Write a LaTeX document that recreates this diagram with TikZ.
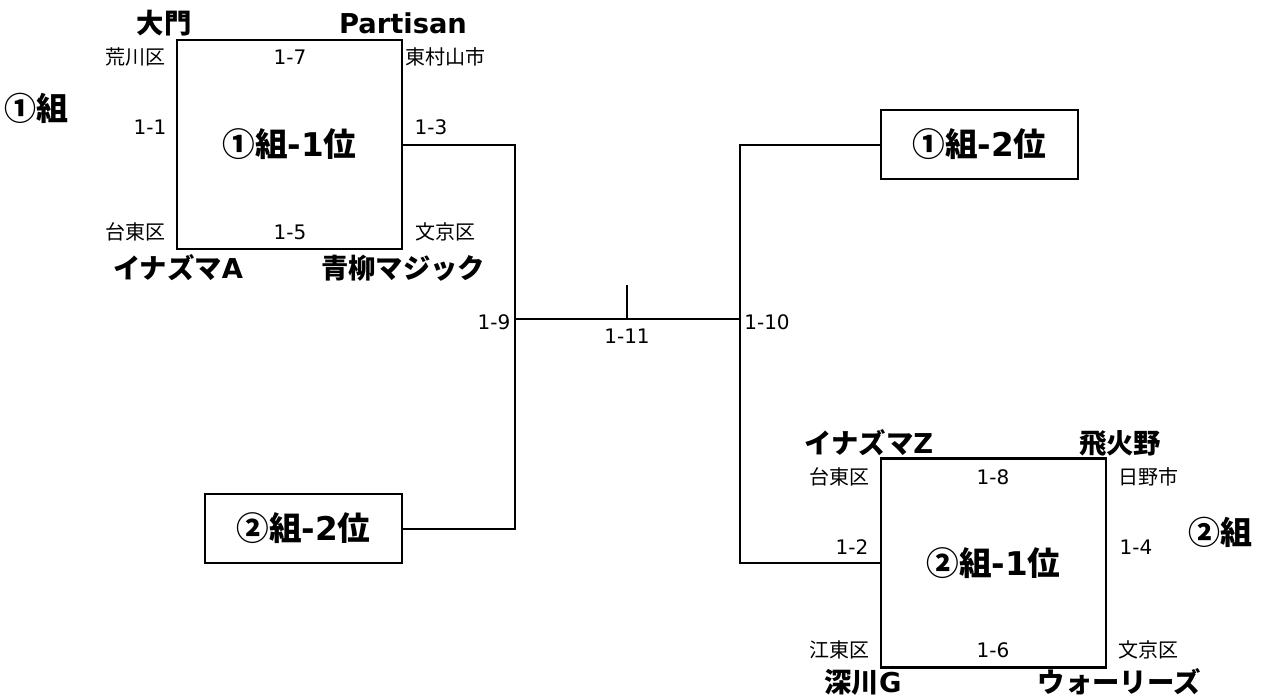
\documentclass[tikz,border=0pt]{standalone}
\usepackage{fontspec}
\setmainfont{Noto Sans CJK JP}
\newfontfamily\latinfont{DejaVu Sans}
\usetikzlibrary{positioning}

\tikzset{
  poolbox/.style={draw, line width=2pt, inner sep=0pt, outer sep=0pt,
    minimum width=168.75pt, minimum height=156.75pt,
    font=\fontsize{24.5}{24.5}\selectfont\bfseries},
  seedbox/.style={draw, line width=2pt, inner sep=0pt, outer sep=0pt,
    minimum width=147.75pt, minimum height=51.75pt,
    font=\fontsize{24.5}{24.5}\selectfont\bfseries},
  teamname/.style={font=\fontsize{20.5}{20.5}\selectfont\bfseries},
  ward/.style={font=\fontsize{15}{15}\selectfont},
  gameno/.style={font=\latinfont\fontsize{15}{15}\selectfont},
  grouplbl/.style={font=\fontsize{24}{24}\selectfont\bfseries},
  bracket/.style={line width=1.5pt}
}
\newcommand{\lt}[1]{{\latinfont #1}}

\begin{document}
\begin{tikzpicture}[x=0.75pt, y=-0.75pt]
  \useasboundingbox (0,0) rectangle (1261,700);

  % Group 1 league box
  \node[poolbox] (pool1) at (289.5,144.5) {①組\lt{-1}位};
  \node[grouplbl] (grp1) at (37,108) {①組};
  \node[teamname] (t1a) at (164,23) {大門};
  \node[teamname] (t1b) at (403,23) {\lt{Partisan}};
  \node[teamname] (t1c) at (178,268) {イナズマ\lt{A}};
  \node[teamname] (t1d) at (403,268) {青柳マジック};
  \node[ward] (w1a) at (135,57) {荒川区};
  \node[ward] (w1b) at (445,57) {東村山市};
  \node[ward] (w1c) at (135,232) {台東区};
  \node[ward] (w1d) at (445,232) {文京区};
  \node[gameno] (g7) at (290,57) {1-7};
  \node[gameno] (g1) at (150,127) {1-1};
  \node[gameno] (g5) at (290,232) {1-5};
  \node[gameno] (g3) at (431,127) {1-3};

  % Group 2 league box
  \node[poolbox] (pool2) at (993.5,563) {②組\lt{-1}位};
  \node[grouplbl] (grp2) at (1220,532) {②組};
  \node[teamname] (t2a) at (869,443) {イナズマ\lt{Z}};
  \node[teamname] (t2b) at (1120,443) {飛火野};
  \node[teamname] (t2c) at (863,682) {深川\lt{G}};
  \node[teamname] (t2d) at (1119,682) {ウォーリーズ};
  \node[ward] (w2a) at (839,477) {台東区};
  \node[ward] (w2b) at (1148,477) {日野市};
  \node[ward] (w2c) at (839,650) {江東区};
  \node[ward] (w2d) at (1148,650) {文京区};
  \node[gameno] (g8) at (993,477) {1-8};
  \node[gameno] (g2) at (852,547) {1-2};
  \node[gameno] (g6) at (993,650) {1-6};
  \node[gameno] (g4) at (1136,547) {1-4};

  % Runners-up
  \node[seedbox] (second1) at (979.5,144.5) {①組\lt{-2}位};
  \node[seedbox] (second2) at (303.5,528.5) {②組\lt{-2}位};

  % Semi finals and final
  \coordinate (semi1) at (515,319);
  \coordinate (semi2) at (740,319);
  \coordinate (final) at (627,319);
  \coordinate (champ) at (627,285);
  \draw[bracket] (pool1.east |- 0,145) -| (semi1) |- (second2.east);
  \draw[bracket] (second1.west) -| (semi2) |- (pool2.west);
  \draw[bracket] (semi1) -- (semi2);
  \draw[bracket] (final) -- (champ);
  \node[gameno] (g9) at (494,322) {1-9};
  \node[gameno] (g11) at (627,336) {1-11};
  \node[gameno] (g10) at (767,322) {1-10};
\end{tikzpicture}
\end{document}
